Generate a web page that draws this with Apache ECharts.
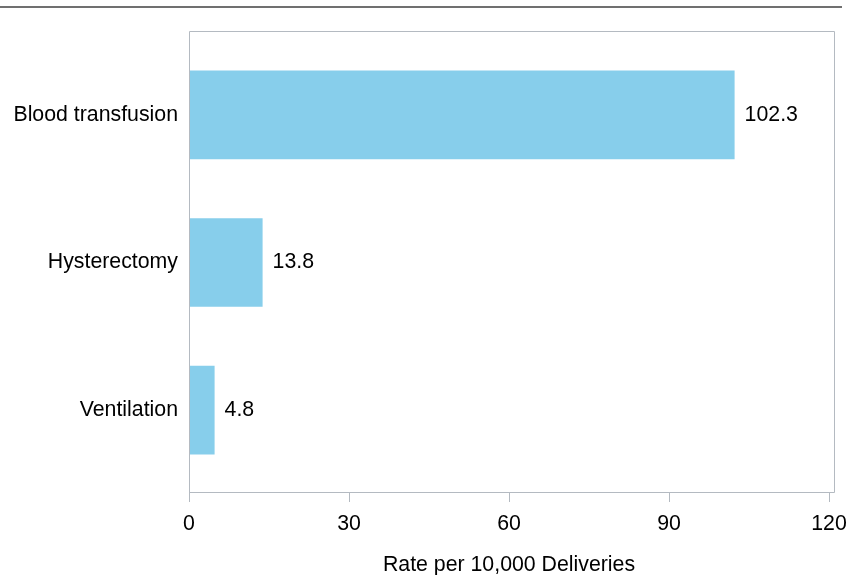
<!DOCTYPE html>
<html>
<head>
<meta charset="utf-8">
<script src="https://cdn.jsdelivr.net/npm/echarts@6/dist/echarts.min.js"></script>
<style>
html,body{margin:0;padding:0;background:#fff;}
#chart{width:849px;height:575px;}
</style>
</head>
<body>
<div id="chart"></div>
<script>
var categories = ['Blood transfusion', 'Hysterectomy', 'Ventilation'];
var rates = [102.3, 13.8, 4.8];
var xTicks = [0, 30, 60, 90, 120];
var xAxisTitle = 'Rate per 10,000 Deliveries';

var chart = echarts.init(document.getElementById('chart'), null, {renderer: 'canvas'});
var FONT = 'Liberation Sans, Arial, sans-serif';
var FS = 21.3;
var frameColor = '#b4bac1';
chart.setOption({
  animation: false,
  backgroundColor: '#fff',
  graphic: [
    {type: 'line', shape: {x1: 0, y1: 7, x2: 842, y2: 7}, style: {stroke: '#707070', lineWidth: 2}, z: 10},
    {type: 'rect', shape: {x: 189.5, y: 31.5, width: 645, height: 461}, style: {fill: null, stroke: frameColor, lineWidth: 1}, z: 10}
  ],
  grid: {left: 189, right: 20, top: 41, bottom: 91, containLabel: false, outerBoundsMode: 'none'},
  xAxis: {
    type: 'value',
    min: 0, max: 120, interval: 30,
    offset: 8,
    axisLine: {show: false},
    axisTick: {show: true, length: 10, lineStyle: {color: frameColor, width: 1}},
    axisLabel: {color: '#000', fontSize: FS, fontFamily: FONT, margin: 22},
    splitLine: {show: false},
    name: xAxisTitle,
    nameLocation: 'middle',
    nameGap: 63,
    nameTextStyle: {color: '#000', fontSize: FS, fontFamily: FONT}
  },
  yAxis: {
    type: 'category',
    data: categories,
    inverse: true,
    axisLine: {show: false},
    axisTick: {show: false},
    axisLabel: {color: '#000', fontSize: FS, fontFamily: FONT, margin: 11}
  },
  series: [{
    type: 'bar',
    data: rates,
    barCategoryGap: '40%',
    itemStyle: {color: '#87ceeb'},
    label: {show: true, position: 'right', distance: 10, color: '#000', fontSize: FS, fontFamily: FONT,
      formatter: function (p) { return p.value.toFixed(1); }}
  }]
});
</script>
</body>
</html>
